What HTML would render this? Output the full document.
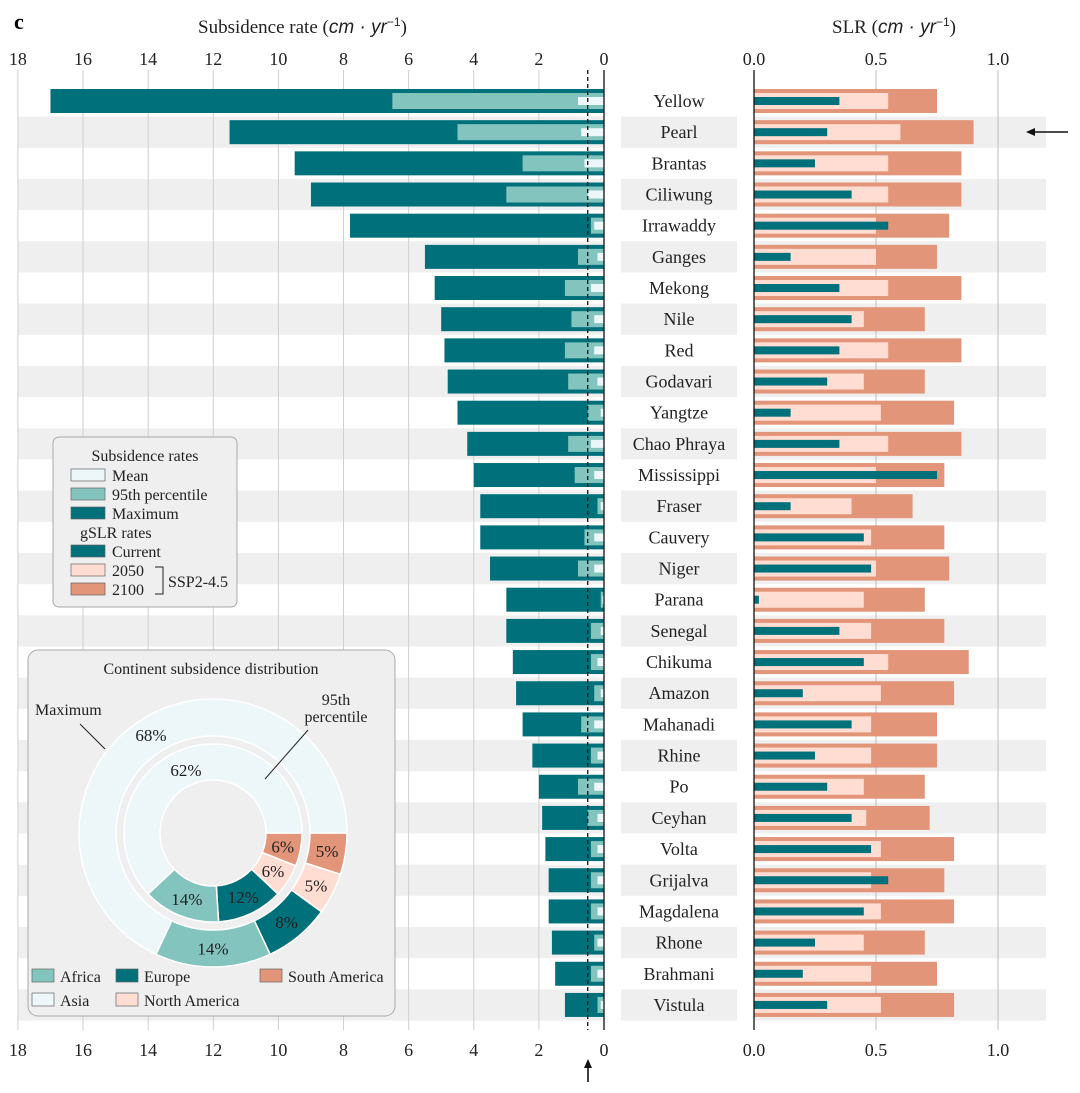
<!DOCTYPE html>
<html><head><meta charset="utf-8"><style>
html,body{margin:0;padding:0;background:#fff;}
svg{display:block;font-family:"Liberation Serif",serif;}
</style></head><body>
<svg id="c" width="1080" height="1093" viewBox="0 0 1080 1093" xmlns="http://www.w3.org/2000/svg"></svg>
<script>
const deltas=["Yellow","Pearl","Brantas","Ciliwung","Irrawaddy","Ganges","Mekong","Nile","Red","Godavari","Yangtze","Chao Phraya","Mississippi","Fraser","Cauvery","Niger","Parana","Senegal","Chikuma","Amazon","Mahanadi","Rhine","Po","Ceyhan","Volta","Grijalva","Magdalena","Rhone","Brahmani","Vistula"];
const subMax=[17.0,11.5,9.5,9.0,7.8,5.5,5.2,5.0,4.9,4.8,4.5,4.2,4.0,3.8,3.8,3.5,3.0,3.0,2.8,2.7,2.5,2.2,2.0,1.9,1.8,1.7,1.7,1.6,1.5,1.2];
const subP95=[6.5,4.5,2.5,3.0,0.4,0.8,1.2,1.0,1.2,1.1,0.5,1.1,0.9,0.2,0.6,0.8,0.1,0.4,0.4,0.3,0.7,0.4,0.8,0.5,0.4,0.4,0.4,0.3,0.4,0.2];
const subMean=[0.8,0.7,0.6,0.5,0.3,0.2,0.4,0.3,0.3,0.2,0.1,0.4,0.3,0.1,0.3,0.3,0.05,0.1,0.2,0.1,0.3,0.2,0.3,0.2,0.2,0.2,0.2,0.2,0.2,0.1];
const slrCurrent=[0.35,0.3,0.25,0.4,0.55,0.15,0.35,0.4,0.35,0.3,0.15,0.35,0.75,0.15,0.45,0.48,0.02,0.35,0.45,0.2,0.4,0.25,0.3,0.4,0.48,0.55,0.45,0.25,0.2,0.3];
const slr2050=[0.55,0.6,0.55,0.55,0.5,0.5,0.55,0.45,0.55,0.45,0.52,0.55,0.5,0.4,0.48,0.5,0.45,0.48,0.55,0.52,0.48,0.48,0.45,0.46,0.52,0.48,0.52,0.45,0.48,0.52];
const slr2100=[0.75,0.9,0.85,0.85,0.8,0.75,0.85,0.7,0.85,0.7,0.82,0.85,0.78,0.65,0.78,0.8,0.7,0.78,0.88,0.82,0.75,0.75,0.7,0.72,0.82,0.78,0.82,0.7,0.75,0.82];
const leftTicks=[18,16,14,12,10,8,6,4,2,0];
const rightTicks=["0.0","0.5","1.0"];
const ringLabels=["Asia","Africa","Europe","North America","South America"];
const outerShare=[68,14,8,5,5];
const innerShare=[62,14,12,6,6];

const NS="http://www.w3.org/2000/svg";
const svg=document.getElementById('c');
const C={dark:"#00707a",light:"#83c5be",mean:"#edf6f9",sal:"#e29578",pink:"#ffddd2",band:"#efefef"};
function mk(t,a,p){const e=document.createElementNS(NS,t);for(const k in a)e.setAttribute(k,a[k]);(p||svg).appendChild(e);return e;}
const xL=v=>604-v*32.56;
const xR=v=>754+v*244;
const yR=i=>101+i*31.17;

deltas.forEach((d,i)=>{if(i%2===1){
 let r=mk('rect',{x:18,y:yR(i)-15.6,width:586,height:31.2,fill:C.band});
 
 
 let r2=mk('rect',{x:621,y:yR(i)-15.6,width:116,height:31.2,fill:C.band});
 
 
 let r3=mk('rect',{x:754,y:yR(i)-15.6,width:292,height:31.2,fill:C.band});
 
 
}});
leftTicks.forEach(t=>{
 if(t>0){let g=mk('line',{x1:xL(t),x2:xL(t),y1:70,y2:1030,stroke:"#cfcfcf","stroke-width":1});
 
 }
 [65,1056].forEach(y=>{let tx=mk('text',{x:xL(t),y:y,"text-anchor":"middle","font-size":18,fill:"#222"});tx.textContent=t;
 
 });
});
rightTicks.forEach(t=>{
 const v=parseFloat(t);
 if(v>0){let g=mk('line',{x1:xR(v),x2:xR(v),y1:70,y2:1030,stroke:"#bdbdbd","stroke-width":1});
 
 }
 [65,1056].forEach(y=>{let tx=mk('text',{x:xR(v),y:y,"text-anchor":"middle","font-size":18,fill:"#222"});tx.textContent=t;
 
 });
});
deltas.forEach((d,i)=>{
 const y=yR(i);
 let b1=mk('rect',{x:xL(subMax[i]),y:y-12,width:xL(0)-xL(subMax[i]),height:24,fill:C.dark});
 
 
 let b2=mk('rect',{x:xL(subP95[i]),y:y-8,width:xL(0)-xL(subP95[i]),height:16,fill:C.light});
 
 
 let b3=mk('rect',{x:xL(subMean[i]),y:y-4,width:xL(0)-xL(subMean[i]),height:8,fill:C.mean});
 
 
 let s1=mk('rect',{x:xR(0),y:y-12,width:xR(slr2100[i])-xR(0),height:24,fill:C.sal});
 
 
 let s2=mk('rect',{x:xR(0),y:y-8,width:xR(slr2050[i])-xR(0),height:16,fill:C.pink});
 
 
 let s3=mk('rect',{x:xR(0),y:y-4,width:xR(slrCurrent[i])-xR(0),height:8,fill:C.dark});
 
 
 let t=mk('text',{x:679,y:y+6,"text-anchor":"middle","font-size":18,fill:"#222"});t.textContent=d;
 
 
});
let a1=mk('line',{x1:604,x2:604,y1:70,y2:1030,stroke:"#111","stroke-width":1.3});

let a2=mk('line',{x1:754,x2:754,y1:70,y2:1030,stroke:"#111","stroke-width":1.3});

let dl=mk('line',{x1:xL(0.5),x2:xL(0.5),y1:70,y2:1030,stroke:"#111","stroke-width":1.3,"stroke-dasharray":"4,3"});

</script>
<svg style="position:absolute;left:0;top:0" width="1080" height="1093" xmlns="http://www.w3.org/2000/svg">
<text x="14" y="29" font-size="22" font-weight="bold" font-family="Liberation Serif,serif">c</text>
<text x="198" y="33" font-size="19" font-family="Liberation Serif,serif" fill="#222">Subsidence rate (<tspan font-family="Liberation Sans,sans-serif" font-style="italic">cm · yr</tspan><tspan font-family="Liberation Sans,sans-serif" font-size="12" dy="-7">−1</tspan><tspan dy="7">)</tspan></text>
<text x="832" y="33" font-size="19" font-family="Liberation Serif,serif" fill="#222">SLR (<tspan font-family="Liberation Sans,sans-serif" font-style="italic">cm · yr</tspan><tspan font-family="Liberation Sans,sans-serif" font-size="12" dy="-7">−1</tspan><tspan dy="7">)</tspan></text>
<g><line x1="1068" y1="132" x2="1030" y2="132" stroke="#111" stroke-width="1.6"/><path d="M1026,132 l9,-4 l0,8z" fill="#111"/></g>
<g><line x1="588" y1="1082" x2="588" y2="1064" stroke="#111" stroke-width="1.6"/><path d="M588,1059 l-4,9 l8,0z" fill="#111"/></g>
<g font-family="Liberation Serif,serif" font-size="16" fill="#222">
<rect x="53" y="437" width="184" height="170" rx="6" fill="#efefef" stroke="#aaa"/>
<text x="145" y="461" text-anchor="middle">Subsidence rates</text>
<rect x="71" y="469" width="34" height="12" fill="#edf6f9" stroke="#666" stroke-width=".7"/><text x="112" y="481">Mean</text>
<rect x="71" y="488" width="34" height="12" fill="#83c5be" stroke="#666" stroke-width=".7"/><text x="112" y="500">95th percentile</text>
<rect x="71" y="507" width="34" height="12" fill="#00707a" stroke="#666" stroke-width=".7"/><text x="112" y="519">Maximum</text>
<text x="80" y="538">gSLR rates</text>
<rect x="71" y="545" width="34" height="12" fill="#00707a" stroke="#666" stroke-width=".7"/><text x="112" y="557">Current</text>
<rect x="71" y="564" width="34" height="12" fill="#ffddd2" stroke="#666" stroke-width=".7"/><text x="112" y="576">2050</text>
<rect x="71" y="583" width="34" height="12" fill="#e29578" stroke="#666" stroke-width=".7"/><text x="112" y="595">2100</text>
<path d="M155,567 h8 v27 h-8" fill="none" stroke="#222"/>
<text x="168" y="587">SSP2-4.5</text>
</g>
<g font-family="Liberation Serif,serif" fill="#222">
<rect x="28" y="650" width="367" height="366" rx="10" fill="#efefef" stroke="#aaa"/>
<text x="211" y="674" text-anchor="middle" font-size="16">Continent subsidence distribution</text>
<g id="donut"></g>
<text x="35" y="715" font-size="16">Maximum</text>
<line x1="80" y1="724" x2="105" y2="749" stroke="#222"/>
<text x="336" y="705" text-anchor="middle" font-size="16">95th</text>
<text x="336" y="722" text-anchor="middle" font-size="16">percentile</text>
<line x1="308" y1="730" x2="265" y2="779" stroke="#222"/>
<g font-size="16">
<rect x="32" y="969" width="22" height="13" fill="#83c5be" stroke="#666" stroke-width=".7"/><text x="60" y="982">Africa</text>
<rect x="116" y="969" width="22" height="13" fill="#00707a" stroke="#666" stroke-width=".7"/><text x="144" y="982">Europe</text>
<rect x="260" y="969" width="22" height="13" fill="#e29578" stroke="#666" stroke-width=".7"/><text x="288" y="982">South America</text>
<rect x="32" y="993" width="22" height="13" fill="#edf6f9" stroke="#666" stroke-width=".7"/><text x="60" y="1006">Asia</text>
<rect x="116" y="993" width="22" height="13" fill="#ffddd2" stroke="#666" stroke-width=".7"/><text x="144" y="1006">North America</text>
</g>
</g>
</svg>
<script>
(function(){
const g=document.getElementById('donut');
const cols=["#edf6f9","#83c5be","#00707a","#ffddd2","#e29578"];
const cx=213,cy=833;
function arc(r0,r1,a0,a1){
 const p=(r,a)=>[cx+r*Math.cos(a),cy+r*Math.sin(a)];
 const L=(a1-a0)>Math.PI?1:0;
 const [x1,y1]=p(r1,a0),[x2,y2]=p(r1,a1),[x3,y3]=p(r0,a1),[x4,y4]=p(r0,a0);
 return `M${x1},${y1}A${r1},${r1} 0 ${L} 1 ${x2},${y2}L${x3},${y3}A${r0},${r0} 0 ${L} 0 ${x4},${y4}Z`;
}
function ring(shares,r0,r1,asiaPos){
 const order=[4,3,2,1,0];let a=0;
 order.forEach(k=>{
  const s=shares[k]/100*2*Math.PI;
  const p=document.createElementNS("http://www.w3.org/2000/svg",'path');
  p.setAttribute('d',arc(r0,r1,a,a+s));p.setAttribute('fill',cols[k]);p.setAttribute('stroke','#fff');p.setAttribute('stroke-width','1.5');
  
  
  g.appendChild(p);
  const m=a+s/2,rm=(r0+r1)/2;
  let tx=cx+rm*Math.cos(m),ty=cy+rm*Math.sin(m)+6;
  if(k===0){tx=asiaPos[0];ty=asiaPos[1];}
  const t=document.createElementNS("http://www.w3.org/2000/svg",'text');
  t.setAttribute('x',tx);t.setAttribute('y',ty);t.setAttribute('text-anchor','middle');t.setAttribute('font-size','17');
  t.textContent=shares[k]+'%';
  
  
  g.appendChild(t);
  a+=s;
 });
}
ring(outerShare,97,134,[151,741]);
ring(innerShare,53,89,[186,776]);
})();
</script>
</body></html>
